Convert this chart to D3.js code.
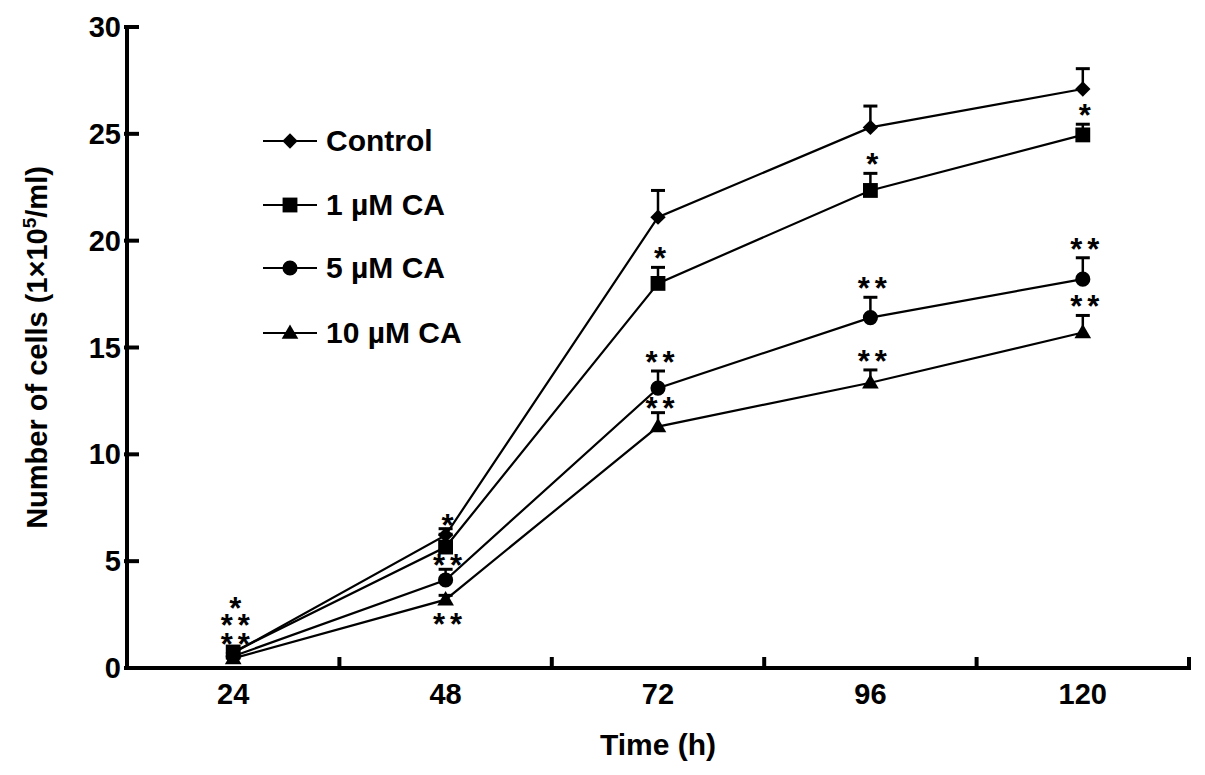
<!DOCTYPE html>
<html>
<head>
<meta charset="utf-8">
<script src="https://cdn.jsdelivr.net/npm/d3@7"></script>
<style>
  html, body { margin: 0; padding: 0; background: #fff; }
  svg { display: block; }
  text { font-family: "Liberation Sans", Arial, sans-serif; fill: #000; }
</style>
</head>
<body>
<svg id="chart" width="1205" height="775"></svg>
<script>
// ---- data ----
const times = [24, 48, 72, 96, 120];
const seriesNames = ["Control", "1 \u00b5M CA", "5 \u00b5M CA", "10 \u00b5M CA"];
const controlMean = [0.7, 6.22, 21.1, 25.3, 27.1];
const controlSD   = [0.2, 0.3, 1.25, 1.0, 0.95];
const ca1Mean = [0.75, 5.66, 18.0, 22.35, 24.95];
const ca1SD   = [0.1, 0.6, 0.75, 0.8, 0.5];
const ca5Mean = [0.55, 4.12, 13.1, 16.4, 18.2];
const ca5SD   = [0.1, 0.5, 0.8, 0.95, 1.0];
const ca10Mean = [0.45, 3.2, 11.3, 13.35, 15.7];
const ca10SD   = [0.1, 0.2, 0.65, 0.6, 0.8];
const controlStars = ["", "", "", "", ""];
const ca1Stars  = ["*", "*", "*", "*", "*"];
const ca5Stars  = ["**", "**", "**", "**", "**"];
const ca10Stars = ["**", "**", "**", "**", "**"];
const yTicks = [0, 5, 10, 15, 20, 25, 30];
const xLabelTicks = [24, 48, 72, 96, 120];
const xMinorTicks = [36, 60, 84, 108, 132];
const xTitle = "Time (h)";

const series = [
  { name: seriesNames[0], mean: controlMean, sd: controlSD, stars: controlStars, symbol: "diamond" },
  { name: seriesNames[1], mean: ca1Mean, sd: ca1SD, stars: ca1Stars, symbol: "square" },
  { name: seriesNames[2], mean: ca5Mean, sd: ca5SD, stars: ca5Stars, symbol: "circle" },
  { name: seriesNames[3], mean: ca10Mean, sd: ca10SD, stars: ca10Stars, symbol: "triangle" }
];

// ---- layout ----
const svg = d3.select("#chart");
const x = d3.scaleLinear().domain([12, 132]).range([127, 1189]);
const y = d3.scaleLinear().domain([0, 30]).range([668, 27]);

function symbolPath(kind) {
  if (kind === "diamond") return d3.symbol().type(d3.symbolSquare).size(118)();
  if (kind === "square") return d3.symbol().type(d3.symbolSquare).size(220)();
  if (kind === "circle") return d3.symbol().type(d3.symbolCircle).size(180)();
  return d3.symbol().type(d3.symbolTriangle).size(120)();
}
function symbolTransform(kind, px, py) {
  if (kind === "diamond") return `translate(${px},${py}) rotate(45)`;
  if (kind === "triangle") return `translate(${px},${py + 1})`;
  return `translate(${px},${py})`;
}

// ---- axes ----
const axisW = 4;
svg.append("line").attr("x1", x(12)).attr("x2", x(12))
  .attr("y1", y(30) - 2).attr("y2", y(0) + 2)
  .attr("stroke", "#000").attr("stroke-width", axisW);
svg.append("line").attr("x1", x(12) - 2).attr("x2", x(132) + 2)
  .attr("y1", y(0)).attr("y2", y(0))
  .attr("stroke", "#000").attr("stroke-width", axisW);

// y ticks (inward)
svg.selectAll(".ytick").data(yTicks).enter().append("line")
  .attr("x1", x(12) - 3).attr("x2", x(12) + 12)
  .attr("y1", d => y(d)).attr("y2", d => y(d))
  .attr("stroke", "#000").attr("stroke-width", 4);
svg.selectAll(".ylab").data(yTicks).enter().append("text")
  .attr("x", 121).attr("y", d => y(d) + 10)
  .attr("text-anchor", "end")
  .style("font-size", "29px").style("font-weight", "bold")
  .text(d => d);

// x minor ticks (inward)
svg.selectAll(".xtick").data(xMinorTicks).enter().append("line")
  .attr("x1", d => x(d)).attr("x2", d => x(d))
  .attr("y1", y(0)).attr("y2", y(0) - 11)
  .attr("stroke", "#000").attr("stroke-width", 4);
svg.selectAll(".xlab").data(xLabelTicks).enter().append("text")
  .attr("x", d => x(d)).attr("y", 704)
  .attr("text-anchor", "middle")
  .style("font-size", "29px").style("font-weight", "bold")
  .text(d => d);

// axis titles
svg.append("text").attr("x", (x(12) + x(132)) / 2).attr("y", 755)
  .attr("text-anchor", "middle")
  .style("font-size", "30px").style("font-weight", "bold")
  .text(xTitle);

const yTitle = svg.append("text")
  .attr("transform", `translate(47,${(y(0) + y(30)) / 2}) rotate(-90)`)
  .attr("text-anchor", "middle")
  .style("font-size", "29px").style("font-weight", "bold");
yTitle.append("tspan").text("Number of cells (1\u00d710");
yTitle.append("tspan").attr("dy", -11).style("font-size", "19px").text("5");
yTitle.append("tspan").attr("dy", 11).text("/ml)");

// ---- lines ----
const line = d3.line().x(d => x(d.t)).y(d => y(d.v));
series.forEach(s => {
  const pts = times.map((t, i) => ({ t, v: s.mean[i] }));
  svg.append("path").datum(pts).attr("d", line)
    .attr("fill", "none").attr("stroke", "#000").attr("stroke-width", 2.2);
});

// ---- error bars ----
series.forEach(s => {
  times.forEach((t, i) => {
    const px = x(t), y0 = y(s.mean[i]), y1 = y(s.mean[i] + s.sd[i]);
    svg.append("line").attr("x1", px).attr("x2", px).attr("y1", y0).attr("y2", y1)
      .attr("stroke", "#000").attr("stroke-width", 2.5);
    svg.append("line").attr("x1", px - 7).attr("x2", px + 7).attr("y1", y1).attr("y2", y1)
      .attr("stroke", "#000").attr("stroke-width", 3);
  });
});

// ---- markers ----
series.forEach(s => {
  times.forEach((t, i) => {
    svg.append("path").attr("d", symbolPath(s.symbol))
      .attr("transform", symbolTransform(s.symbol, x(t), y(s.mean[i])))
      .attr("fill", "#000");
  });
});

// ---- significance stars ----
function drawStars(str, cx, cy) {
  const n = str.length, gap = 17;
  for (let k = 0; k < n; k++) {
    svg.append("text")
      .attr("x", cx + 2 + (k - (n - 1) / 2) * gap)
      .attr("y", cy + 15)
      .attr("text-anchor", "middle")
      .style("font-size", "31px").style("font-weight", "bold")
      .text(str[k]);
  }
}
series.forEach((s, si) => {
  times.forEach((t, i) => {
    const str = s.stars[i];
    if (!str) return;
    let cy;
    if (t === 24) {
      // stacked cluster above the overlapping first points
      const stackOffset = { 1: -48, 2: -35, 3: -18 };
      cy = y(s.mean[i]) + stackOffset[si];
    } else if (si === 3 && t === 48) {
      cy = y(s.mean[i]) + 20;   // placed below the marker
    } else if (si === 2 && t === 48) {
      cy = y(s.mean[i] + s.sd[i]) - 8;
    } else if (si === 3 && t === 72) {
      cy = y(s.mean[i] + s.sd[i]) - 9;
    } else {
      cy = y(s.mean[i] + s.sd[i]) - 13;
    }
    drawStars(str, x(t), cy);
  });
});

// ---- legend ----
const legendY = [141, 205, 268, 333];
series.forEach((s, i) => {
  const ly = legendY[i];
  svg.append("line").attr("x1", 263).attr("x2", 317).attr("y1", ly).attr("y2", ly)
    .attr("stroke", "#000").attr("stroke-width", 2.2);
  svg.append("path").attr("d", symbolPath(s.symbol))
    .attr("transform", symbolTransform(s.symbol, 290, ly))
    .attr("fill", "#000");
  svg.append("text").attr("x", 326).attr("y", ly + 10)
    .style("font-size", "30px").style("font-weight", "bold")
    .text(s.name);
});
</script>
</body>
</html>
